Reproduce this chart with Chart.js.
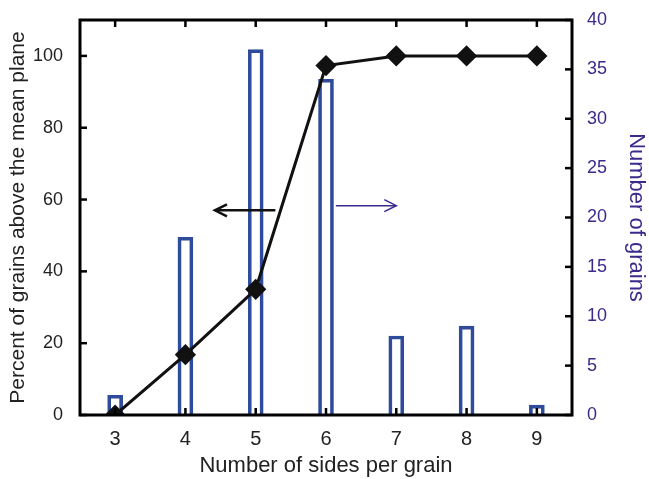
<!DOCTYPE html>
<html>
<head>
<meta charset="utf-8">
<script src="https://cdn.jsdelivr.net/npm/chart.js@4.4.1/dist/chart.umd.min.js"></script>
<style>
  html, body { margin: 0; padding: 0; background: #ffffff; }
  #wrap { width: 649px; height: 479px; }
</style>
</head>
<body>
<div id="wrap"><canvas id="c" width="649" height="479"></canvas></div>
<script>
// ---- data ----
const sides = [3, 4, 5, 6, 7, 8, 9];
const percentAbove = [0, 16.8, 35, 97.3, 100, 100, 100];
const grainCounts = [2, 18, 37, 34, 8, 9, 1];
const xTicks = [3, 4, 5, 6, 7, 8, 9];
const leftTicks = [0, 20, 40, 60, 80, 100];
const rightTicks = [0, 5, 10, 15, 20, 25, 30, 35, 40];

const BLUE = '#2f4b9b';
const PURPLE = '#3a2a8c';
const FONT = 'Liberation Sans, Arial, sans-serif';

// annotation arrows (data coordinates)
const arrows = [
  { from: [5.28, 57], to: [4.42, 57], axis: 'y', color: '#111111', width: 2.5 },
  { from: [6.14, 58.3], to: [7.0, 58.3], axis: 'y', color: PURPLE, width: 1.5 }
];

const framePlugin = {
  id: 'frame',
  afterDatasetsDraw(chart) {
    const { ctx, chartArea: a, scales } = chart;
    ctx.save();
    ctx.strokeStyle = '#000';
    ctx.lineWidth = 2.5;
    const tl = 7;
    xTicks.forEach(v => {
      const px = scales.x.getPixelForValue(v);
      ctx.beginPath();
      ctx.moveTo(px, a.bottom); ctx.lineTo(px, a.bottom - tl);
      ctx.moveTo(px, a.top); ctx.lineTo(px, a.top + tl);
      ctx.stroke();
    });
    leftTicks.forEach(v => {
      const py = scales.y.getPixelForValue(v);
      ctx.beginPath();
      ctx.moveTo(a.left, py); ctx.lineTo(a.left + tl, py);
      ctx.stroke();
    });
    rightTicks.forEach(v => {
      const py = scales.y2.getPixelForValue(v);
      ctx.beginPath();
      ctx.moveTo(a.right, py); ctx.lineTo(a.right - tl, py);
      ctx.stroke();
    });
    ctx.lineWidth = 3;
    ctx.strokeRect(a.left, a.top, a.right - a.left, a.bottom - a.top);
    arrows.forEach(ar => {
      const x1 = scales.x.getPixelForValue(ar.from[0]);
      const y1 = scales[ar.axis].getPixelForValue(ar.from[1]);
      const x2 = scales.x.getPixelForValue(ar.to[0]);
      const y2 = scales[ar.axis].getPixelForValue(ar.to[1]);
      ctx.strokeStyle = ar.color;
      ctx.lineWidth = ar.width;
      ctx.beginPath();
      ctx.moveTo(x1, y1); ctx.lineTo(x2, y2);
      ctx.stroke();
      const dir = Math.sign(x2 - x1);
      ctx.beginPath();
      ctx.moveTo(x2 - dir * 12, y2 - 6);
      ctx.lineTo(x2, y2);
      ctx.lineTo(x2 - dir * 12, y2 + 6);
      ctx.stroke();
    });
    ctx.restore();
  }
};

new Chart(document.getElementById('c'), {
  data: {
    datasets: [
      {
        type: 'line',
        label: 'Percent above mean plane',
        data: sides.map((s, i) => ({ x: s, y: percentAbove[i] })),
        yAxisID: 'y',
        borderColor: '#111111',
        backgroundColor: '#111111',
        borderWidth: 3,
        pointStyle: 'rectRot',
        pointRadius: 8.5,
        pointHoverRadius: 8.5,
        tension: 0,
        order: 1
      },
      {
        type: 'bar',
        label: 'Number of grains',
        data: sides.map((s, i) => ({ x: s, y: grainCounts[i] })),
        yAxisID: 'y2',
        backgroundColor: 'rgba(255,255,255,0)',
        borderColor: BLUE,
        borderWidth: 3,
        borderSkipped: 'bottom',
        barThickness: 15,
        order: 2
      }
    ]
  },
  options: {
    responsive: false,
    animation: false,
    events: [],
    layout: { padding: { top: 20, left: 0, right: 0, bottom: 0 } },
    plugins: { legend: { display: false }, tooltip: { enabled: false } },
    scales: {
      x: {
        type: 'linear',
        offset: false,
        min: 2.5,
        max: 9.5,
        afterBuildTicks: s => { s.ticks = xTicks.map(v => ({ value: v })); },
        afterFit: s => { s.height = 64; },
        grid: { display: false, offset: false },
        border: { display: false },
        ticks: { color: '#222', padding: 4, font: { family: FONT, size: 20 }, maxRotation: 0 },
        title: { display: true, text: 'Number of sides per grain', color: '#222', font: { family: FONT, size: 22 }, padding: { top: 0, bottom: 0 } }
      },
      y: {
        position: 'left',
        min: 0,
        max: 110,
        afterBuildTicks: s => { s.ticks = leftTicks.map(v => ({ value: v })); },
        afterFit: s => { s.width = 80; },
        grid: { display: false },
        border: { display: false },
        ticks: { color: '#222', padding: 9, font: { family: FONT, size: 18 } },
        title: { display: true, text: 'Percent of grains above the mean plane', color: '#222', font: { family: FONT, size: 21 }, padding: { top: 6, bottom: 2 } }
      },
      y2: {
        position: 'right',
        min: 0,
        max: 40,
        afterBuildTicks: s => { s.ticks = rightTicks.map(v => ({ value: v })); },
        afterFit: s => { s.width = 77; },
        grid: { display: false },
        border: { display: false },
        ticks: { color: PURPLE, padding: 7, font: { family: FONT, size: 18 } },
        title: { display: true, text: 'Number of grains', color: PURPLE, font: { family: FONT, size: 22 }, padding: { top: 0, bottom: 0 } }
      }
    }
  },
  plugins: [framePlugin]
});
</script>
</body>
</html>
